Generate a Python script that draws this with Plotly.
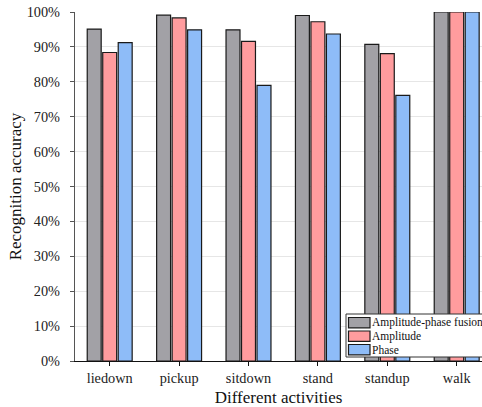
import plotly.graph_objects as go

# Recognition accuracy (%) per activity for each feature type
activities = ["liedown", "pickup", "sitdown", "stand", "standup", "walk"]
fusion = [95.1, 99.1, 94.9, 99.0, 90.7, 100.0]
amplitude = [88.4, 98.3, 91.6, 97.2, 88.1, 100.0]
phase = [91.2, 94.9, 79.0, 93.7, 76.1, 100.0]

series_names = ["Amplitude-phase fusion", "Amplitude", "Phase"]
series_colors = ["#a2a1a6", "#ff9c9e", "#8ebcf8"]
y_ticks = [0, 10, 20, 30, 40, 50, 60, 70, 80, 90, 100]
y_tick_text = [f"{v}%" for v in y_ticks]

W, H = 482, 407
M_L, M_R, M_T, M_B = 75, 0, 12, 46
FONT = "Liberation Serif, Times New Roman, serif"

fig = go.Figure()
for name, vals, col in zip(series_names, [fusion, amplitude, phase], series_colors):
    fig.add_trace(go.Bar(
        x=activities, y=vals, name=name,
        marker=dict(color=col, line=dict(color="#1a1a1a", width=1.2)),
        showlegend=False,
    ))

# Hand-built legend box (paper coordinates from pixel positions)
plot_w = W - M_L - M_R
plot_h = H - M_T - M_B


def px(x):
    return (x - M_L) / plot_w


def py(y):
    return (H - M_B - y) / plot_h


shapes = [dict(type="rect", xref="paper", yref="paper",
               x0=px(346), x1=px(490), y0=py(357), y1=py(314),
               fillcolor="white", line=dict(color="#333333", width=1))]
annotations = []
row_tops = [317.5, 331, 344.5]
for name, col, top in zip(series_names, series_colors, row_tops):
    shapes.append(dict(type="rect", xref="paper", yref="paper",
                       x0=px(348.5), x1=px(370), y0=py(top + 10.3), y1=py(top),
                       fillcolor=col, line=dict(color="#1a1a1a", width=1.2)))
    annotations.append(dict(xref="paper", yref="paper", x=px(369.5), y=py(top + 5.2),
                            text=name, showarrow=False, xanchor="left", yanchor="middle",
                            font=dict(family=FONT, size=11.5, color="#111111")))

fig.update_layout(
    width=W, height=H,
    margin=dict(l=M_L, r=M_R, t=M_T, b=M_B, pad=0),
    paper_bgcolor="white", plot_bgcolor="white",
    barmode="group", bargap=0.33, bargroupgap=0.1,
    font=dict(family=FONT, color="#222222"),
    shapes=shapes, annotations=annotations,
)
fig.update_xaxes(
    range=[-0.5, -0.5 + plot_w / 69.4],
    showline=True, linecolor="#111111", linewidth=1.2,
    ticks="outside", ticklen=4, tickcolor="#111111", tickwidth=1,
    tickfont=dict(family=FONT, size=14.3, color="#222222"),
    title=dict(text="Different activities", font=dict(family=FONT, size=17, color="#111111"),
               standoff=5),
    showgrid=False,
)
fig.update_yaxes(
    range=[0, 100], tickmode="array", tickvals=y_ticks, ticktext=y_tick_text,
    showline=True, linecolor="#555555", linewidth=1.3,
    ticks="outside", ticklen=4, tickcolor="#555555", tickwidth=1,
    ticklabelstandoff=7,
    tickfont=dict(family=FONT, size=14.3, color="#222222"),
    showgrid=True, gridcolor="#e6e6e6", gridwidth=1,
    zeroline=False,
    title=dict(text="Recognition accuracy", font=dict(family=FONT, size=17, color="#111111"),
               standoff=0),
)

fig.write_html("out.html")
